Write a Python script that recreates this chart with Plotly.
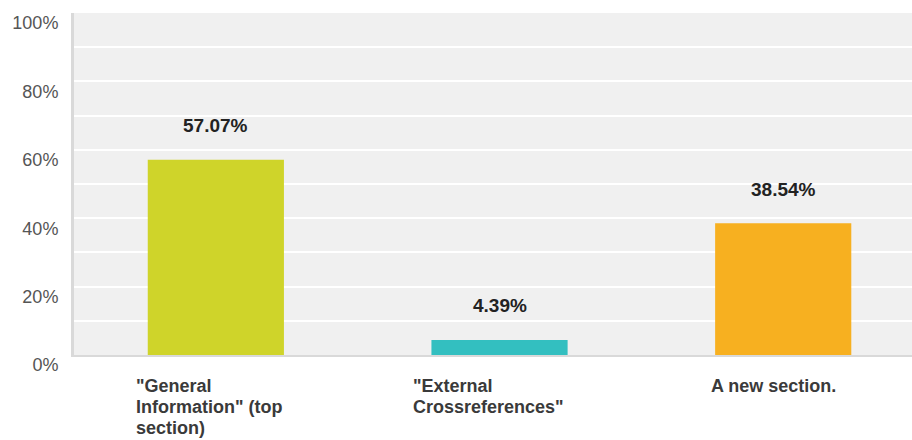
import plotly.graph_objects as go

categories = ['"General<br>Information" (top<br>section)', '"External<br>Crossreferences"', 'A new section.']
values = [57.07, 4.39, 38.54]
value_labels = ["57.07%", "4.39%", "38.54%"]
colors = ["#CFD42A", "#33BFC0", "#F7B020"]
tick_vals = [0, 20, 40, 60, 80, 100]
tick_text = ["0%", "20%", "40%", "60%", "80%", "100%"]
label_shift = [-82, -89, -74]

keys = ["c0", "c1", "c2"]
FONT = "Liberation Sans, Arial"

fig = go.Figure()
fig.add_trace(go.Bar(
    x=keys, y=values, width=0.48,
    marker=dict(color=colors, line=dict(width=0)),
    hoverinfo="skip",
))

for k, v, t in zip(keys, values, value_labels):
    fig.add_annotation(x=k, y=v, text="<b>" + t + "</b>", showarrow=False,
                       yanchor="middle", yshift=34,
                       font=dict(family=FONT, size=19, color="#222222"))

for k, c, s in zip(keys, categories, label_shift):
    for i, line in enumerate(c.split("<br>")):
        fig.add_annotation(x=k, y=0, text="<b>" + line + "</b>", showarrow=False,
                           xanchor="left", yanchor="middle", align="left",
                           xshift=s, yshift=-31 - 21 * i,
                           font=dict(family=FONT, size=18, color="#3a3a3a"))

fig.update_layout(
    width=912, height=440,
    margin=dict(l=74, r=0, t=13, b=85),
    paper_bgcolor="white", plot_bgcolor="#F0F0F0",
    showlegend=False,
    xaxis=dict(type="category", range=[-0.5, 2.454], showticklabels=False, showgrid=False,
               showline=True, linecolor="#D9D9D9", linewidth=2, zeroline=False, fixedrange=True),
    yaxis=dict(range=[0, 100], tickvals=tick_vals, ticktext=tick_text,
               showgrid=True, gridcolor="white", gridwidth=2,
               minor=dict(showgrid=True, gridcolor="white", gridwidth=2, dtick=10),
               showline=True, linecolor="#D9D9D9", linewidth=3, zeroline=False,
               ticklabelshift=10, ticklabelstandoff=9, fixedrange=True,
               tickfont=dict(family=FONT, size=18, color="#555555")),
)

fig.write_html("out.html", config={"displayModeBar": False},
               post_script="document.body.style.margin='0';")
